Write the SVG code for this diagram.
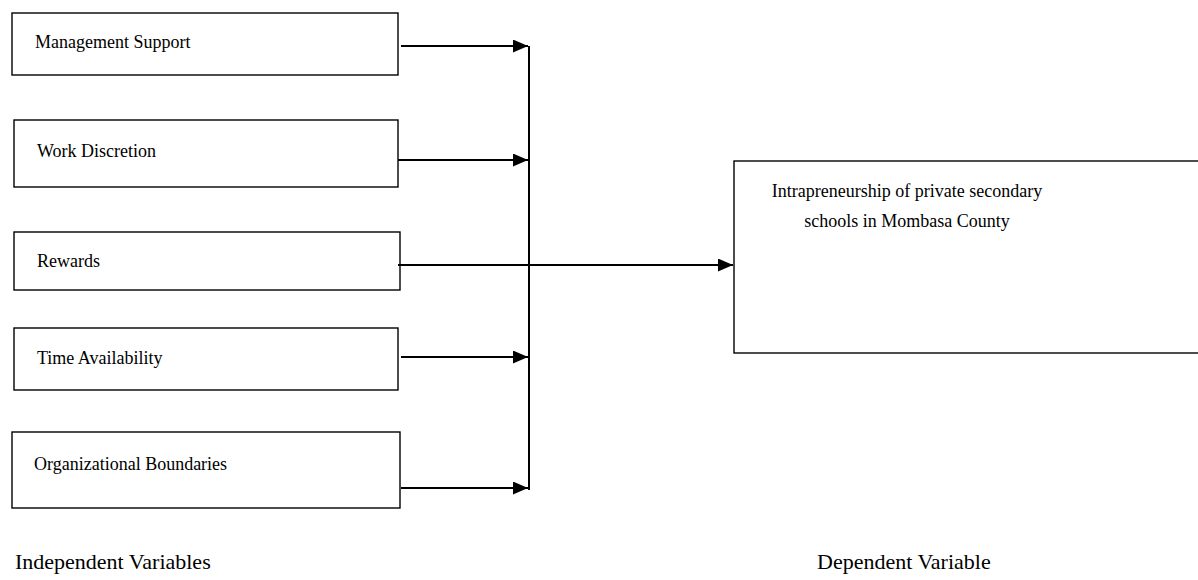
<svg xmlns="http://www.w3.org/2000/svg" width="1198" height="580" viewBox="0 0 1198 580">
<style>
.box{fill:#fff;stroke:#000;stroke-width:1.4}
.t{font-family:"Liberation Serif","Times New Roman",serif;font-size:18px;fill:#000}
.cap{font-family:"Liberation Serif","Times New Roman",serif;font-size:22px;fill:#000}
.c{stroke:#000;stroke-width:2;fill:none}
</style>
<defs>
<marker id="ah" viewBox="0 0 10 10" refX="10" refY="5" markerWidth="7.5" markerHeight="6.5" preserveAspectRatio="none" markerUnits="strokeWidth" orient="auto">
<path d="M0,0 L10,5 L0,10 z" fill="#000"/>
</marker>
</defs>
<rect width="1198" height="580" fill="#fff"/>
<g id="n1"><rect class="box" x="12" y="13" width="386" height="62"/><text class="t" x="35" y="48">Management Support</text></g>
<g id="n2"><rect class="box" x="14" y="120" width="384" height="67"/><text class="t" x="37" y="157">Work Discretion</text></g>
<g id="n3"><rect class="box" x="14" y="232" width="386" height="58"/><text class="t" x="37" y="267">Rewards</text></g>
<g id="n4"><rect class="box" x="14" y="328" width="384" height="62"/><text class="t" x="37" y="364">Time Availability</text></g>
<g id="n5"><rect class="box" x="12" y="432" width="388" height="76"/><text class="t" x="34" y="470">Organizational Boundaries</text></g>
<g id="n6"><rect class="box" x="734" y="161" width="480" height="192"/><text class="t" x="907" y="197" text-anchor="middle">Intrapreneurship of private secondary</text><text class="t" x="907" y="227" text-anchor="middle">schools in Mombasa County</text></g>
<g id="connectors">
<line class="c" x1="529" y1="46" x2="529" y2="490"/>
<line class="c" x1="401" y1="46" x2="528" y2="46" marker-end="url(#ah)"/>
<line class="c" x1="398" y1="160" x2="528" y2="160" marker-end="url(#ah)"/>
<line class="c" x1="398" y1="265" x2="733" y2="265" marker-end="url(#ah)"/>
<line class="c" x1="401" y1="357" x2="528" y2="357" marker-end="url(#ah)"/>
<line class="c" x1="401" y1="488" x2="528" y2="488" marker-end="url(#ah)"/>
</g>
<text class="cap" x="15" y="569">Independent Variables</text>
<text class="cap" x="817" y="569">Dependent Variable</text>
</svg>
